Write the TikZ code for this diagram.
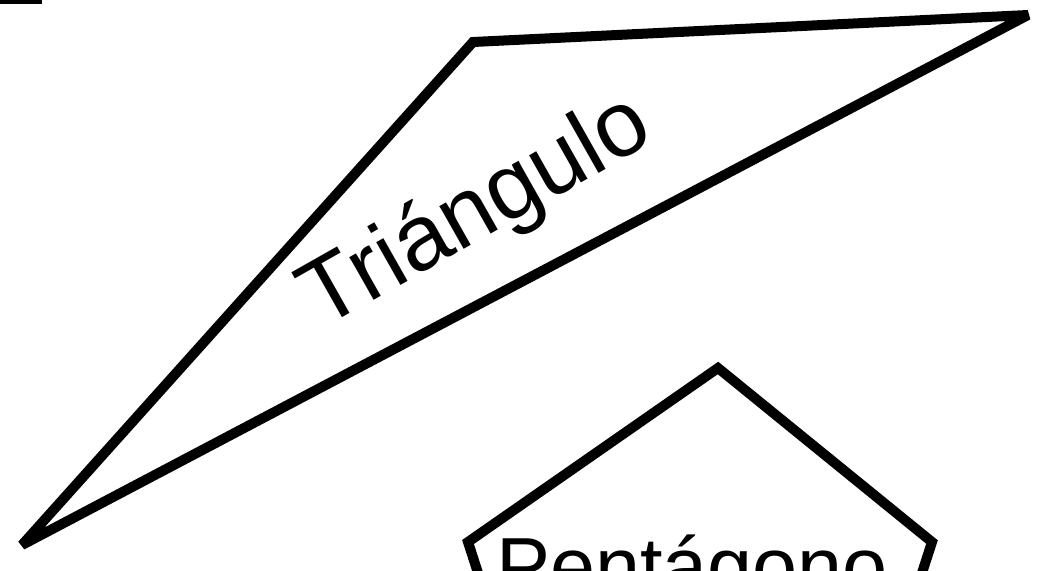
\documentclass[tikz,border=0pt]{standalone}
\usepackage{fontspec}
\setmainfont{Liberation Sans}
\usetikzlibrary{calc}

\begin{document}
\begin{tikzpicture}[x=1pt,y=-1pt,
  shapeline/.style={line width=10pt,line join=miter,miter limit=2},
  shapelabel/.style={inner sep=0pt,anchor=base}]
  \useasboundingbox (0,0) rectangle (1046,570);
  \fill (0,0) rectangle (42,3.5);
  % triangle
  \coordinate (tA) at (473,42);
  \coordinate (tB) at (1028,15);
  \coordinate (tC) at (22,545);
  \draw[shapeline] (tA)--(tB)--(tC)--cycle;
  \node[shapelabel,rotate=29.5,font=\fontsize{93}{100}\selectfont] (tri) at (489,235) {Triángulo};
  % pentagon, cut off at the bottom
  \begin{scope}
    \clip (0,0) rectangle (1046,570);
    \coordinate (pA) at (718,368);
    \coordinate (pB) at (932,542);
    \coordinate (pC) at (868,740);
    \coordinate (pD) at (532,740);
    \coordinate (pE) at (468,542);
    \draw[shapeline] (pA)--(pB)--(pC)--(pD)--(pE)--cycle;
    \node[shapelabel,font=\fontsize{81}{90}\selectfont] (pent) at (692,594) {Pentágono};
  \end{scope}
\end{tikzpicture}
\end{document}
